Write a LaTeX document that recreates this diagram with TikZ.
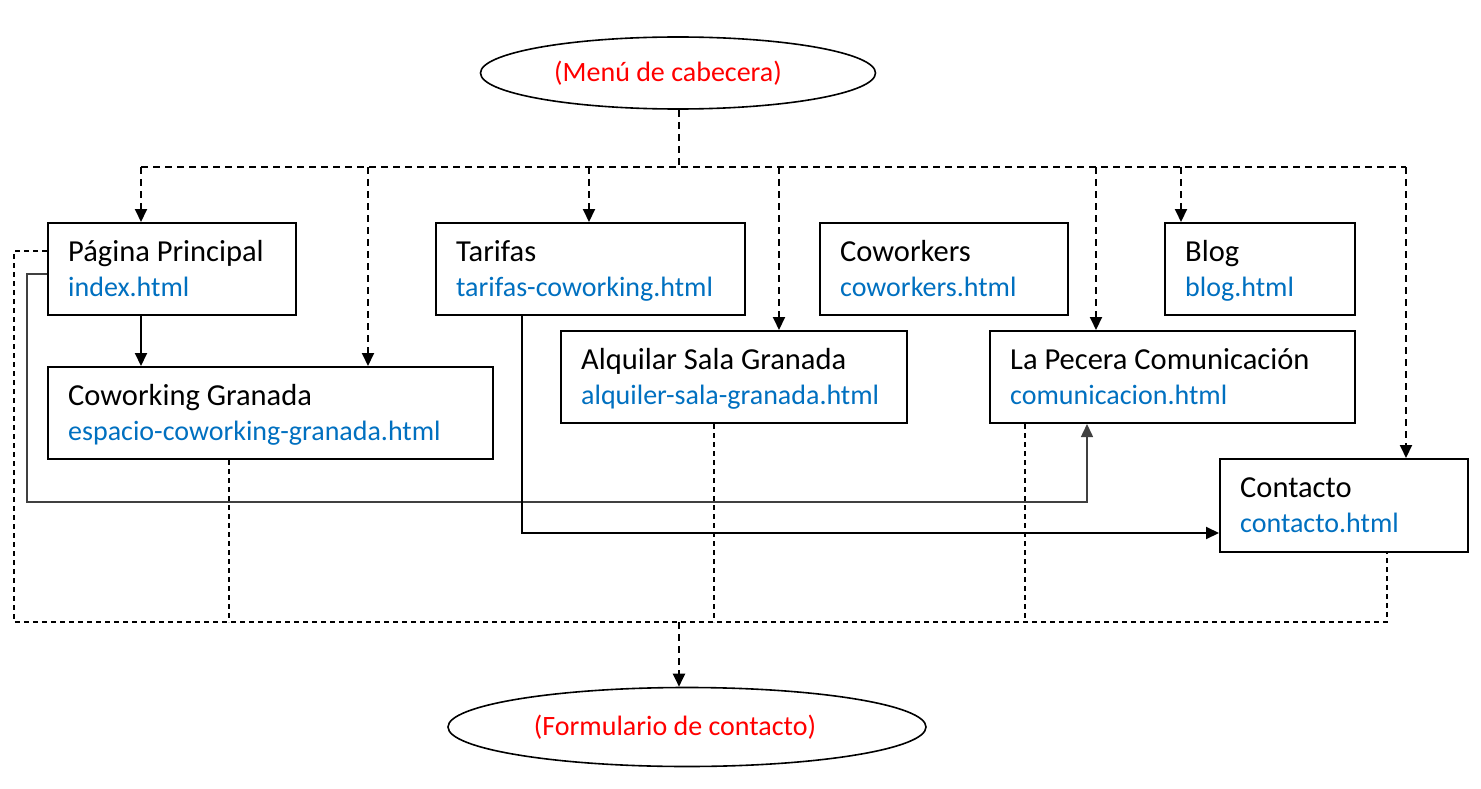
\documentclass[tikz,border=0pt]{standalone}
\usepackage{fontspec}
\setmainfont{Carlito}
\usetikzlibrary{shapes.geometric,arrows.meta}
\definecolor{urlblue}{HTML}{0070C0}
\definecolor{menured}{HTML}{FF0000}
% name, left, top, right, bottom, title, url
\newcommand\sitebox[7]{%
  \node[pagebox, minimum width=#4-#2, minimum height=#5-#3, anchor=north west] (#1) at (#2,#3) {};
  \node[ttl, anchor=base west] (#1t) at (#2+21,#3+39) {#6};
  \node[urltxt, anchor=base west] (#1u) at (#2+21,#3+74) {#7};
}
\begin{document}
\begin{tikzpicture}[x=1pt,y=-1pt,
  pagebox/.style={draw, line width=2pt, inner sep=0pt, fill=white},
  ttl/.style={inner sep=0pt, font=\fontsize{30.5}{36}\selectfont},
  urltxt/.style={inner sep=0pt, text=urlblue, font=\fontsize{28}{34}\selectfont},
  oval/.style={ellipse, draw, line width=1.6pt, inner sep=0pt, text=menured, font=\fontsize{28}{34}\selectfont},
  dtop/.style={line width=2pt, dash pattern=on 7pt off 5pt},
  dbot/.style={line width=1.5pt, dash pattern=on 5pt off 4pt},
  arr/.style={-{Triangle[length=13pt,width=12pt]}},
  link/.style={line width=2pt},
  thinlink/.style={line width=1.5pt, black!75}]
\useasboundingbox (0,0) rectangle (1481,789);

\node[oval, minimum width=395pt, minimum height=72pt] (mc) at (678,73) {\hspace*{-20pt}(Menú de cabecera)};
\node[oval, minimum width=478pt, minimum height=79pt] (fc) at (687,727) {\hspace*{-24pt}(Formulario de contacto)};

\sitebox{pp}{47}{222}{295}{314}{Página Principal}{index.html}
\sitebox{cg}{47}{366}{492}{458}{Coworking Granada}{espacio-coworking-granada.html}
\sitebox{ta}{435}{222}{744}{314}{Tarifas}{tarifas-coworking.html}
\sitebox{cw}{819}{222}{1067}{314}{Coworkers}{coworkers.html}
\sitebox{bl}{1164}{222}{1354}{314}{Blog}{blog.html}
\sitebox{al}{560}{330}{906}{422}{Alquilar Sala Granada}{alquiler-sala-granada.html}
\sitebox{lp}{989}{330}{1354}{422}{La Pecera Comunicación}{comunicacion.html}
\sitebox{co}{1219}{458}{1467}{551}{Contacto}{contacto.html}

% top bus
\coordinate (bt0) at (679,167);
\coordinate (b1) at (141,167);
\coordinate (b2) at (368,167);
\coordinate (b3) at (589,167);
\coordinate (b4) at (779,167);
\coordinate (b5) at (1096,167);
\coordinate (b6) at (1181,167);
\coordinate (b7) at (1406,167);
\draw[dtop] (bt0 |- mc.south) -- (bt0);
\draw[dtop] (b1) -- (b7);
\draw[dtop,arr] (b1) -- (b1 |- pp.north);
\draw[dtop,arr] (b2) -- (b2 |- cg.north);
\draw[dtop,arr] (b3) -- (b3 |- ta.north);
\draw[dtop,arr] (b4) -- (b4 |- al.north);
\draw[dtop,arr] (b5) -- (b5 |- lp.north);
\draw[dtop,arr] (b6) -- (b6 |- bl.north);
\draw[dtop,arr] (b7) -- (b7 |- co.north);

% bottom bus
\coordinate (q0) at (14,622);
\coordinate (q1) at (1387,622);
\coordinate (r1) at (229,622);
\coordinate (r2) at (714,622);
\coordinate (r3) at (1025,622);
\coordinate (fa) at (679,622);
\coordinate (ppa) at (47,251);
\coordinate (ppb) at (47,274);
\draw[dbot] (ppa) -| (q0) -- (q1) -- (q1 |- co.south);
\draw[dbot] (r1 |- cg.south) -- (r1);
\draw[dbot] (r2 |- al.south) -- (r2);
\draw[dbot] (r3 |- lp.south) -- (r3);
\draw[dtop,arr] (fa) -- (fa |- fc.north);

% solid links
\draw[link,arr] (b1 |- pp.south) -- (b1 |- cg.north);
\coordinate (s1) at (27,502);
\coordinate (s2) at (1087,502);
\draw[thinlink,arr] (ppb) -| (s1) -- (s2) -- (s2 |- lp.south);
\coordinate (t1) at (522,533);
\draw[link,arr] (t1 |- ta.south) -- (t1) -- (t1 -| co.west);
\end{tikzpicture}
\end{document}
